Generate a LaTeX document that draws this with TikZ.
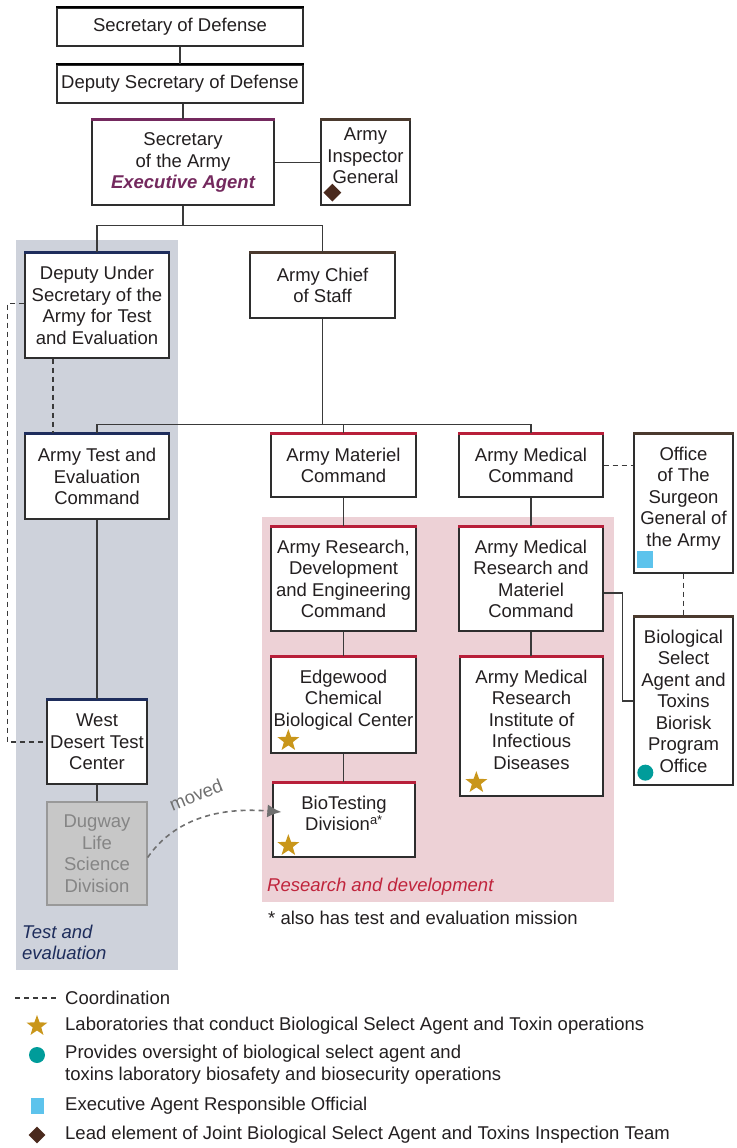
\documentclass[tikz,border=0pt]{standalone}
\usepackage{fontspec}
\setmainfont{Liberation Sans}
\usepackage{tikz}
\usetikzlibrary{calc,positioning,shapes.geometric,shadows,arrows.meta}

\definecolor{textgray}{HTML}{231F20}
\definecolor{boxline}{HTML}{2E2E2E}
\definecolor{lineclr}{HTML}{3A3A3A}
\definecolor{armyred}{HTML}{B81F3A}
\definecolor{armynavy}{HTML}{1E2D5C}
\definecolor{armybrown}{HTML}{4B3A2E}
\definecolor{armypurple}{HTML}{74295E}
\definecolor{tebg}{HTML}{CED2DB}
\definecolor{rdbg}{HTML}{EDD1D6}
\definecolor{rdtext}{HTML}{C0243C}
\definecolor{labgold}{HTML}{C9961A}
\definecolor{bioteal}{HTML}{009C9A}
\definecolor{eacyan}{HTML}{5DC3EC}
\definecolor{leadbrown}{HTML}{4A2A1E}
\definecolor{movedgray}{HTML}{707070}

\newcommand{\orgfont}{\fontsize{18.5}{21.5}\selectfont}

\begin{document}
\begin{tikzpicture}[x=1pt,y=-1pt,
    every node/.style={font=\orgfont,text=textgray},
    orgbox/.style={draw=boxline,fill=white,line width=1.3pt,align=center,inner sep=2pt,
        drop shadow={shadow xshift=1.4pt,shadow yshift=-1.4pt,opacity=.3}},
    oldbox/.style={orgbox,draw=black!40,fill=black!22,text=black!48},
    conn/.style={draw=lineclr,line width=1.6pt},
    coordline/.style={conn,dash pattern=on 5pt off 4pt},
    labstar/.style={star,star points=5,star point ratio=2.45,fill=labgold,inner sep=0pt,minimum size=23pt},
    bprodot/.style={circle,fill=bioteal,inner sep=0pt,minimum size=16pt},
    eaosquare/.style={rectangle,fill=eacyan,inner sep=0pt,minimum width=16pt,minimum height=17pt},
    leaddiam/.style={diamond,fill=leadbrown,inner sep=0pt,minimum size=18pt},
    legendtext/.style={anchor=west,align=left,inner sep=0pt}
]
\useasboundingbox (0,0) rectangle (736,1148);

% shaded areas
\fill[tebg] (16,240) rectangle (178,970);
\fill[rdbg] (262,517) rectangle (614,902);

% offices
\node[orgbox,minimum width=246pt,minimum height=38pt] (sod) at (180,27) {Secretary of Defense};
\node[orgbox,minimum width=246pt,minimum height=38pt] (dsd) at (180,84) {Deputy Secretary of Defense};
\node[orgbox,minimum width=182pt,minimum height=85pt] (sa) at (183,162.5)
    {Secretary\\of the Army\\{\color{armypurple}\bfseries\itshape Executive Agent}};
\node[orgbox,minimum width=89pt,minimum height=85pt] (aig) at (365.5,162.5)
    {Army\\Inspector\\General\\[-8pt]\mbox{}};
\node[orgbox,minimum width=144pt,minimum height=105pt] (dusa) at (97,305.5)
    {Deputy Under\\Secretary of the\\Army for Test\\and Evaluation};
\node[orgbox,minimum width=145pt,minimum height=65pt] (acs) at (322.5,285.5) {Army Chief\\of Staff};
\node[orgbox,minimum width=144pt,minimum height=85pt] (atec) at (97,476.5)
    {Army Test and\\Evaluation\\Command};
\node[orgbox,minimum width=145pt,minimum height=63pt] (amc) at (343.5,465.5) {Army Materiel\\Command};
\node[orgbox,minimum width=144pt,minimum height=63pt] (medcom) at (531,465.5) {Army Medical\\Command};
\node[orgbox,minimum width=99pt,minimum height=139pt] (otsg) at (683.5,503.5)
    {Office\\of The\\Surgeon\\General of\\the Army\\[-8pt]\mbox{}};
\node[orgbox,minimum width=145pt,minimum height=104pt] (ardec) at (343.5,579)
    {Army Research,\\Development\\and Engineering\\Command};
\node[orgbox,minimum width=144pt,minimum height=104pt] (mrmc) at (531,579)
    {Army Medical\\Research and\\Materiel\\Command};
\node[orgbox,minimum width=145pt,minimum height=96pt] (ecbc) at (343.5,705)
    {Edgewood\\Chemical\\Biological Center\\[-8pt]\mbox{}};
\node[orgbox,minimum width=143pt,minimum height=139pt] (amriid) at (531.5,726.5)
    {Army Medical\\Research\\Institute of\\Infectious\\Diseases\\[-8pt]\mbox{}};
\node[orgbox,minimum width=142pt,minimum height=74pt] (btd) at (344,820)
    {BioTesting\\Division\textsuperscript{a*}\\[-8pt]\mbox{}};
\node[orgbox,minimum width=99pt,minimum height=168pt] (bpo) at (683.5,701)
    {Biological\\Select\\Agent and\\Toxins\\Biorisk\\Program\\Office};
\node[orgbox,minimum width=100pt,minimum height=84pt] (wdtc) at (97,742) {West\\Desert Test\\Center};
\node[oldbox,minimum width=100pt,minimum height=103pt] (dlsd) at (97,853.5)
    {Dugway\\Life\\Science\\Division};

% coloured top edges
\foreach \n in {sod,dsd} \draw[line width=2.2pt,black] (\n.north west) -- (\n.north east);
\draw[line width=2.4pt,armypurple] (sa.north west) -- (sa.north east);
\foreach \n in {aig,acs,otsg,bpo} \draw[line width=2.4pt,armybrown] (\n.north west) -- (\n.north east);
\foreach \n in {dusa,atec,wdtc} \draw[line width=2.4pt,armynavy] (\n.north west) -- (\n.north east);
\foreach \n in {amc,medcom,ardec,mrmc,ecbc,amriid,btd} \draw[line width=2.4pt,armyred] (\n.north west) -- (\n.north east);

% marks in the boxes
\node[leaddiam] (aigmark) at ([shift={(12,-13)}]aig.south west) {};
\node[eaosquare] (otsgmark) at ([shift={(12,-14)}]otsg.south west) {};
\node[bprodot] (bpomark) at ([shift={(12,-13)}]bpo.south west) {};
\node[labstar] (ecbcmark) at ([shift={(18,-13)}]ecbc.south west) {};
\node[labstar] (amriidmark) at ([shift={(17,-14)}]amriid.south west) {};
\node[labstar] (btdmark) at ([shift={(16,-12)}]btd.south west) {};

% chain of command
\coordinate (split1) at ($(sa.south)+(0,20)$);
\coordinate (split2) at ($(acs.south)+(0,106)$);
\draw[conn] (sod) -- (dsd);
\draw[conn] (sa.north |- dsd.south) -- (sa.north);
\draw[conn] (sa.east) -- (aig.west);
\draw[conn] (sa.south) -- (split1);
\draw[conn] (dusa.north) |- (split1) -| (acs.north);
\draw[conn] (acs.south) -- (split2);
\draw[conn] (atec.north) |- (split2) -| (medcom.north);
\draw[conn] (amc.north |- split2) -- (amc.north);
\draw[conn] (amc) -- (ardec);
\draw[conn] (ardec) -- (ecbc);
\draw[conn] (ecbc.south) -- (ecbc.south |- btd.north);
\draw[conn] (medcom) -- (mrmc);
\draw[conn] (mrmc.south) -- (mrmc.south |- amriid.north);
\draw[conn] ([yshift=-14pt]mrmc.east) -- ++(19,0) |- (bpo.west);
\draw[conn] (atec) -- (wdtc);
\draw[conn] (wdtc) -- (dlsd);

% coordination
\draw[coordline] (medcom.east) -- (medcom.east -| otsg.west);
\draw[coordline] (otsg) -- (bpo);
\draw[coordline] ([xshift=-44pt]dusa.south) -- ([xshift=-44pt]atec.north);
\draw[coordline] ([yshift=2pt]dusa.west) -- ++(-17,0) |- (wdtc.west);

% move of the division
\coordinate (movedend) at ([shift={(9,-8)}]btd.west);
\draw[movedgray,line width=1.6pt,dash pattern=on 5pt off 4pt,-{Latex[length=14pt,width=13pt]}]
    ([yshift=-4pt]dlsd.east) .. controls (168,828) and (205,806) .. (movedend);
\node[text=movedgray,rotate=22] (movedtxt) at (196,795) {moved};

% area labels
\node[legendtext,text=armynavy,font=\orgfont\itshape] (tetxt) at (22,942.5) {Test and\\evaluation};
\node[legendtext,text=rdtext,font=\orgfont\itshape] (rdtxt) at (267,887) {Research and development};
\node[legendtext] (notetxt) at (268,918) {* also has test and evaluation mission};

% legend
\coordinate (keya) at (15,998);
\coordinate (keyb) at (56,998);
\draw[coordline,line width=1.3pt] (keya) -- (keyb);
\node[legendtext] (keycoord) at (65,998) {Coordination};
\node[labstar,minimum size=22pt] (keystar) at (37,1026) {};
\node[legendtext] (keylab) at (65,1026) {Laboratories that conduct Biological Select Agent and Toxin operations};
\node[bprodot,minimum size=16pt] (keydot) at (37,1055) {};
\node[legendtext,anchor=north west] (keyover) at (65,1045)
    {Provides oversight of biological select agent and\\toxins laboratory biosafety and biosecurity operations};
\node[eaosquare,minimum width=13pt,minimum height=16pt] (keysq) at (37,1106) {};
\node[legendtext] (keyea) at (65,1106) {Executive Agent Responsible Official};
\node[leaddiam,minimum size=17pt] (keydiam) at (37,1135) {};
\node[legendtext] (keylead) at (65,1135) {Lead element of Joint Biological Select Agent and Toxins Inspection Team};
\end{tikzpicture}
\end{document}
